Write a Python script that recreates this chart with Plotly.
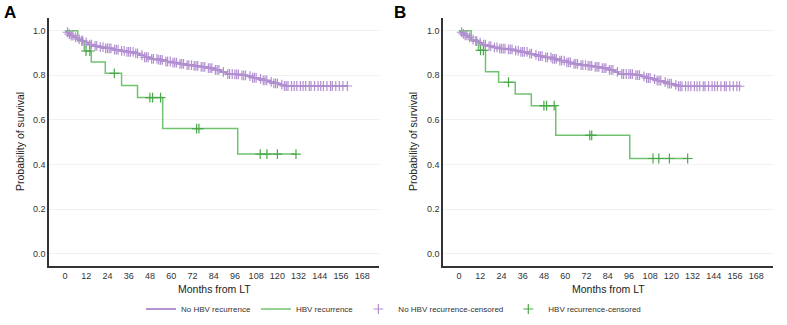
import bisect
import plotly.graph_objects as go

# ---------------- data ----------------
x_ticks = [0, 12, 24, 36, 48, 60, 72, 84, 96, 108, 120, 132, 144, 156, 168]
y_ticks = [0.0, 0.2, 0.4, 0.6, 0.8, 1.0]

# Panel A - No HBV recurrence (step points)
A_no_t = [0, 1, 2, 3, 5, 7, 9, 11, 13, 16, 19, 23, 27, 31, 35, 39, 42, 45, 48, 53, 57,
          61, 65, 69, 73, 77, 81, 85, 88, 91, 96, 100, 103, 106, 109, 112, 115, 118, 121, 124]
A_no_s = [1.0, 0.993, 0.985, 0.978, 0.970, 0.962, 0.955, 0.948, 0.938, 0.932, 0.926, 0.921,
          0.915, 0.910, 0.905, 0.898, 0.890, 0.881, 0.874, 0.869, 0.862, 0.857, 0.851, 0.846,
          0.842, 0.838, 0.832, 0.824, 0.815, 0.806, 0.804, 0.800, 0.796, 0.789, 0.784, 0.777,
          0.771, 0.764, 0.758, 0.752]
A_no_end = 159.5
A_no_cens = [1.5, 2.5, 3.5, 4.5, 6, 8, 9.5, 10, 12, 14, 15, 17, 18, 20, 21.5, 23, 24, 25, 26,
             28, 29, 30, 32, 33.5, 35, 36, 37, 38.5, 40, 41, 43.5, 45, 46, 47, 49, 50, 52, 53,
             54, 55, 57, 58, 59.5, 61, 62, 63, 65, 66, 67, 69, 70, 71.5, 73, 74, 75, 77, 78,
             79, 81, 82, 83, 85, 86, 87, 89.5, 92, 93, 94.5, 96, 97, 98, 100, 101, 102,
             104.5, 106, 107, 108, 110.5, 112, 113, 114, 116.5, 118, 119, 120, 122.5, 124,
             125, 126, 128, 129.5, 131, 133, 134.5, 136, 138, 139, 141, 143, 144.5, 146,
             148, 150, 151, 153, 155, 157, 159.5]

# Panel A - HBV recurrence
A_hbv_t = [0, 7.2, 10.9, 14.9, 22.8, 32, 41, 55.2, 97.6]
A_hbv_s = [1.0, 0.955, 0.909, 0.860, 0.809, 0.754, 0.700, 0.561, 0.447]
A_hbv_end = 130.5
A_hbv_cens = [11.9, 14.1, 27.9, 48, 49.5, 54, 74.4, 75.7, 110.3, 114.1, 120, 130.5]

# Panel B - No HBV recurrence
B_no_t = [0, 1, 2, 3, 5, 7, 9, 11, 13, 16, 19, 23, 27, 31, 35, 39, 42, 45, 48, 53, 57,
          61, 65, 69, 73, 77, 81, 85, 88, 90, 96, 100, 103, 106, 109, 112, 115, 118, 121, 124]
B_no_s = [1.0, 0.993, 0.986, 0.979, 0.970, 0.960, 0.953, 0.946, 0.937, 0.931, 0.925, 0.920,
          0.916, 0.911, 0.905, 0.897, 0.892, 0.886, 0.880, 0.874, 0.866, 0.858, 0.851, 0.846,
          0.842, 0.838, 0.832, 0.824, 0.815, 0.806, 0.805, 0.801, 0.795, 0.788, 0.783, 0.776,
          0.770, 0.763, 0.757, 0.751]
B_no_end = 158.5
B_no_cens = [1.5, 2.5, 3.5, 4.5, 6, 8, 9.5, 10, 12, 14, 15, 17, 18, 20, 21.5, 23, 24, 25, 26,
             28, 29, 30, 32, 33.5, 35, 36, 37, 38.5, 40, 41, 43.5, 45, 46, 47, 49, 50, 52, 53,
             54, 55, 57, 58, 59.5, 61, 62, 63, 65, 66, 67, 69, 70, 71.5, 73, 74, 75, 77, 78,
             79, 81, 82, 83, 85, 86, 87, 89.5, 92, 93, 94.5, 96, 97, 98, 100, 101, 102,
             104.5, 106, 107, 108, 110.5, 112, 113, 114, 116.5, 118, 119, 120, 122.5, 124,
             125, 126, 128, 129.5, 131, 133, 134.5, 136, 138, 139, 141, 143, 144.5, 146,
             148, 150, 151, 153, 155, 157, 158.5]

# Panel B - HBV recurrence
B_hbv_t = [0, 6.9, 11, 15, 22.4, 31.8, 40.9, 54.7, 96.5]
B_hbv_s = [1.0, 0.957, 0.912, 0.816, 0.769, 0.716, 0.664, 0.531, 0.427]
B_hbv_end = 129.2
B_hbv_cens = [12.2, 13.8, 28, 48, 49.5, 53.8, 73.9, 75, 109.6, 112.9, 118.9, 129.2]

# ---------------- style ----------------
PURPLE = "#9b6fbf"
PURPLE_C = "#b18fd0"
GREEN = "#72c370"
GREEN_C = "#4aa84a"
FONT = "Liberation Sans, Arial, sans-serif"


def step_at(ts, ss, t):
    i = bisect.bisect_right(ts, t) - 1
    return ss[max(i, 0)]


fig = go.Figure()


def add_panel(xa, ya, no_t, no_s, no_end, no_c, h_t, h_s, h_end, h_c, show):
    fig.add_trace(go.Scatter(x=no_t + [no_end], y=no_s + [no_s[-1]], mode="lines",
                             line=dict(color=PURPLE, width=1.5, shape="hv"),
                             name="No HBV recurrence", legendgroup="a", showlegend=show,
                             xaxis=xa, yaxis=ya, hoverinfo="skip"))
    fig.add_trace(go.Scatter(x=h_t + [h_end], y=h_s + [h_s[-1]], mode="lines",
                             line=dict(color=GREEN, width=1.5, shape="hv"),
                             name="HBV recurrence", legendgroup="b", showlegend=show,
                             xaxis=xa, yaxis=ya, hoverinfo="skip"))
    fig.add_trace(go.Scatter(x=no_c, y=[step_at(no_t, no_s, t) for t in no_c], mode="markers",
                             marker=dict(symbol="cross-thin", size=7, color=PURPLE_C,
                                         line=dict(color=PURPLE_C, width=1.2)),
                             name="No HBV recurrence-censored", legendgroup="c",
                             showlegend=show, xaxis=xa, yaxis=ya, hoverinfo="skip"))
    fig.add_trace(go.Scatter(x=h_c, y=[step_at(h_t, h_s, t) for t in h_c], mode="markers",
                             marker=dict(symbol="cross-thin", size=7, color=GREEN_C,
                                         line=dict(color=GREEN_C, width=1.2)),
                             name="HBV recurrence-censored", legendgroup="d",
                             showlegend=show, xaxis=xa, yaxis=ya, hoverinfo="skip"))


add_panel("x", "y", A_no_t, A_no_s, A_no_end, A_no_cens,
          A_hbv_t, A_hbv_s, A_hbv_end, A_hbv_cens, True)
add_panel("x2", "y2", B_no_t, B_no_s, B_no_end, B_no_cens,
          B_hbv_t, B_hbv_s, B_hbv_end, B_hbv_cens, False)

W, H = 787, 325
ydom = [1 - 266 / H, 1 - 18 / H]

xcommon = dict(range=[-9, 177.4], tickvals=x_ticks, showgrid=False, zeroline=False,
               showline=True, linecolor="#333333", linewidth=1.5, ticks="",
               tickfont=dict(size=9, color="#333333", family=FONT), automargin=False)
ycommon = dict(range=[-0.055, 1.057], tickvals=y_ticks, tickformat=".1f", showgrid=True,
               gridcolor="#f0f0f0", gridwidth=1, zeroline=False, showline=True,
               linecolor="#333333", linewidth=1.5, ticks="",
               tickfont=dict(size=9, color="#333333", family=FONT), automargin=False)

fig.update_layout(
    width=W, height=H,
    margin=dict(l=0, r=0, t=0, b=0),
    paper_bgcolor="white", plot_bgcolor="white",
    font=dict(family=FONT, color="#333333"),
    xaxis=dict(domain=[49 / W, 379 / W], anchor="y", **xcommon),
    yaxis=dict(domain=ydom, anchor="x", **ycommon),
    xaxis2=dict(domain=[443 / W, 773 / W], anchor="y2", **xcommon),
    yaxis2=dict(domain=ydom, anchor="x2", **ycommon),
    legend=dict(orientation="h", x=0.5, xanchor="center", y=1 - 309 / H, yanchor="middle",
                font=dict(size=8, color="#333333", family=FONT), bgcolor="rgba(0,0,0,0)"),
    showlegend=True,
)

annots = [
    dict(text="<b>A</b>", x=2 / W, y=1 - 12 / H, xanchor="left", yanchor="middle",
         font=dict(size=17, color="black")),
    dict(text="<b>B</b>", x=392 / W, y=1 - 12 / H, xanchor="left", yanchor="middle",
         font=dict(size=17, color="black")),
    dict(text="Months from LT", x=214 / W, y=1 - 289 / H, xanchor="center", yanchor="middle",
         font=dict(size=10.5, color="#222222")),
    dict(text="Months from LT", x=608 / W, y=1 - 289 / H, xanchor="center", yanchor="middle",
         font=dict(size=10.5, color="#222222")),
    dict(text="Probability of survival", x=20 / W, y=1 - 142 / H, xanchor="center",
         yanchor="middle", textangle=-90, font=dict(size=10.5, color="#222222")),
    dict(text="Probability of survival", x=413 / W, y=1 - 142 / H, xanchor="center",
         yanchor="middle", textangle=-90, font=dict(size=10.5, color="#222222")),
]
for a in annots:
    a.update(xref="paper", yref="paper", showarrow=False)
fig.update_layout(annotations=annots)

fig.write_html("out.html",
               config={"displayModeBar": False},
               post_script="document.body.style.margin='0px';"
                           "document.body.style.overflow='hidden';")
